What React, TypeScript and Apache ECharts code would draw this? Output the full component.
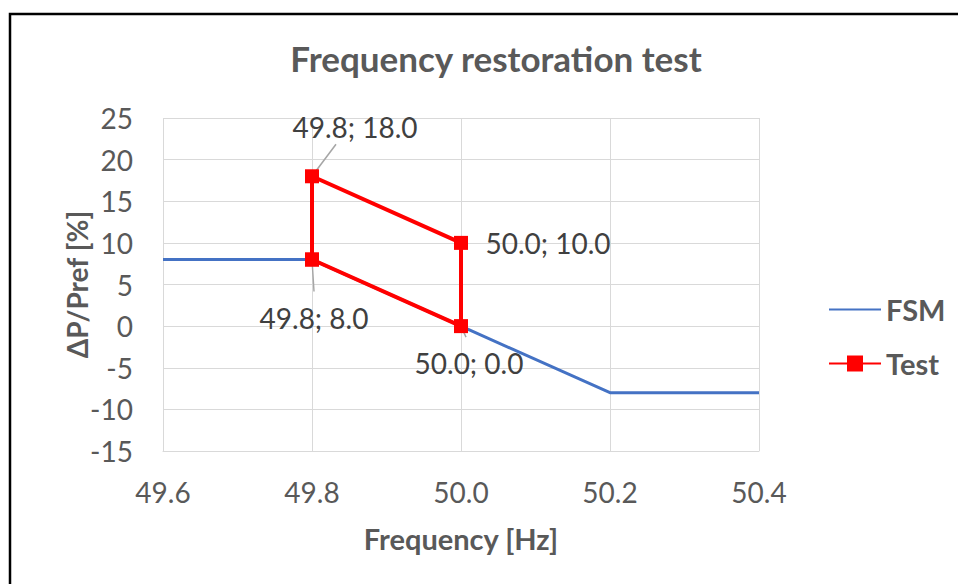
import React, { useEffect, useRef } from "react";
import * as echarts from "echarts";

const chartTitle = "Frequency restoration test";
const xAxisTitle = "Frequency [Hz]";
const yAxisTitle = "ΔP/Pref [%]";

const fsmX = [49.6, 49.8, 50.0, 50.2, 50.4];
const fsmY = [8, 8, 0, -8, -8];

const testX = [49.8, 49.8, 50.0, 50.0, 49.8];
const testY = [8, 18, 10, 0, 8];
const testLabelShown = [true, true, true, true, false];

const xMin = 49.6;
const xMax = 50.4;
const xStep = 0.2;
const yMin = -15;
const yMax = 25;
const yStep = 5;

// label centre offsets (px) relative to each point
const labelShift = [
  [2, 58],
  [43, -49],
  [87, 0],
  [8, 37],
  [0, 0],
];
// leader line end offsets (px) relative to each point (null = no leader)
const leaderEnd: (number[] | null)[] = [[2, 32], [24, -32], null, [5, 11], null];

const FONT = "Lato, 'Noto Sans', sans-serif";
const GRAY = "#595959";

export default function App() {
  const ref = useRef<HTMLDivElement>(null);
  useEffect(() => {
    if (!ref.current) return;
    const chart = echarts.init(ref.current, undefined, { renderer: "svg" });
    const testData = testX.map((x, i) => ({
      value: [x, testY[i]],
      label: { show: testLabelShown[i] },
    }));
    chart.setOption({
      animation: false,
      backgroundColor: "#ffffff",
      textStyle: { fontFamily: FONT },
      title: {
        text: chartTitle,
        left: 491,
        top: 35,
        textAlign: "center",
        textStyle: { fontFamily: FONT, fontSize: 35, fontWeight: "bold", color: GRAY },
      },
      legend: {
        orient: "vertical",
        left: 823,
        top: 290,
        itemWidth: 52,
        itemHeight: 20,
        itemGap: 25,
        textStyle: { fontFamily: FONT, fontSize: 29, lineHeight: 29, fontWeight: "bold", color: GRAY },
        data: [{ name: "FSM", itemStyle: { opacity: 0 } }, "Test"],
      },
      grid: { left: 163, right: 199, top: 118, bottom: 133, containLabel: false },
      xAxis: {
        type: "value",
        min: xMin,
        max: xMax,
        interval: xStep,
        name: xAxisTitle,
        nameLocation: "middle",
        nameGap: 73,
        nameMoveOverlap: false,
        nameTextStyle: { fontFamily: FONT, fontSize: 29, fontWeight: "bold", color: GRAY },
        axisLine: { show: true, onZero: false, lineStyle: { color: "#D9D9D9", width: 1 } },
        axisTick: { show: false },
        splitLine: { show: true, lineStyle: { color: "#D9D9D9", width: 1 } },
        axisLabel: {
          fontFamily: FONT,
          fontSize: 28,
          color: GRAY,
          margin: 27,
          formatter: (v: number) => v.toFixed(1),
        },
      },
      yAxis: {
        type: "value",
        min: yMin,
        max: yMax,
        interval: yStep,
        name: yAxisTitle,
        nameLocation: "middle",
        nameGap: 72,
        nameMoveOverlap: false,
        nameRotate: 90,
        nameTextStyle: { fontFamily: FONT, fontSize: 28, fontWeight: "bold", color: GRAY },
        axisLine: { show: false },
        axisTick: { show: false },
        splitLine: { show: true, lineStyle: { color: "#D9D9D9", width: 1 } },
        axisLabel: { fontFamily: FONT, fontSize: 28, color: GRAY, margin: 30 },
      },
      series: [
        {
          name: "FSM",
          type: "line",
          data: fsmX.map((x, i) => [x, fsmY[i]]),
          symbol: "none",
          lineStyle: { color: "#4472C4", width: 3 },
          itemStyle: { color: "#4472C4" },
          z: 2,
        },
        {
          name: "Test",
          type: "line",
          data: testData,
          symbol: "rect",
          symbolSize: 14,
          lineStyle: { color: "#FF0000", width: 4 },
          itemStyle: { color: "#FF0000" },
          z: 3,
          label: {
            show: true,
            position: "inside",
            fontFamily: FONT,
            fontSize: 28,
            color: "#404040",
            formatter: (p: any) => `${p.value[0].toFixed(1)}; ${p.value[1].toFixed(1)}`,
          },
          labelLayout: (params: any) => {
            const s = labelShift[params.dataIndex] || [0, 0];
            return { dx: s[0], dy: s[1] };
          },
        },
      ],
    });

    const graphics: any[] = [
      {
        id: "border",
        type: "rect",
        shape: { x: 10, y: 14, width: 1000, height: 700 },
        style: { fill: "none", stroke: "#000000", lineWidth: 2.5 },
        silent: true,
        z: 100,
      },
    ];
    testX.forEach((x, i) => {
      const e = leaderEnd[i];
      if (!e) return;
      const p = chart.convertToPixel({ gridIndex: 0 }, [x, testY[i]]) as number[];
      graphics.push({
        id: "leader" + i,
        type: "line",
        shape: { x1: p[0], y1: p[1], x2: p[0] + e[0], y2: p[1] + e[1] },
        style: { stroke: "#A6A6A6", lineWidth: 1.5 },
        silent: true,
        z: 1,
      });
    });
    chart.setOption({ graphic: graphics });
    return () => chart.dispose();
  }, []);
  return (
    <div
      ref={ref}
      style={{ position: "fixed", left: 0, top: 0, width: 958, height: 584 }}
    />
  );
}
